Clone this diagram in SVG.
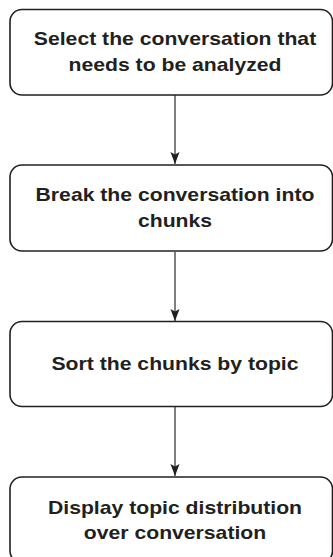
<svg xmlns="http://www.w3.org/2000/svg" width="333" height="557" viewBox="0 0 333 557">
  <defs>
    <marker id="arrow" markerUnits="userSpaceOnUse" markerWidth="14" markerHeight="10" viewBox="-13 -5 14 10" refX="0" refY="0" orient="auto">
      <path d="M-12,-4.5 L0,0 L-12,4.5 L-9.5,0 Z" fill="#231f20"/>
    </marker>
  </defs>
  <style>
    .box { fill: #ffffff; stroke: #231f20; stroke-width: 1.6; }
    .label { font-family: "Liberation Sans", Arial, Helvetica, sans-serif; font-weight: bold; font-size: 19px; fill: #231f20; text-anchor: middle; }
    .edge { stroke: #3a3a3a; stroke-width: 1.3; fill: none; }
  </style>
  <rect width="333" height="557" fill="#ffffff"/>

  <g id="connectors">
    <line class="edge" x1="175" y1="95" x2="175" y2="164" marker-end="url(#arrow)"/>
    <line class="edge" x1="175" y1="252" x2="175" y2="321" marker-end="url(#arrow)"/>
    <line class="edge" x1="175" y1="407" x2="175" y2="476" marker-end="url(#arrow)"/>
  </g>

  <g id="select">
    <rect class="box" x="10" y="9.5" width="322.5" height="85.5" rx="12" ry="12"/>
    <text class="label" transform="matrix(1.115 0 0 1 175 0)" x="0" y="45">Select the conversation that</text>
    <text class="label" transform="matrix(1.115 0 0 1 175 0)" x="0" y="71">needs to be analyzed</text>
  </g>

  <g id="break">
    <rect class="box" x="10" y="165" width="322.5" height="86" rx="12" ry="12"/>
    <text class="label" transform="matrix(1.115 0 0 1 175 0)" x="0" y="201">Break the conversation into</text>
    <text class="label" transform="matrix(1.115 0 0 1 175 0)" x="0" y="227">chunks</text>
  </g>

  <g id="sort">
    <rect class="box" x="10" y="321.5" width="322.5" height="85" rx="12" ry="12"/>
    <text class="label" transform="matrix(1.115 0 0 1 175 0)" x="0" y="370">Sort the chunks by topic</text>
  </g>

  <g id="display">
    <rect class="box" x="10" y="477" width="322.5" height="86" rx="12" ry="12"/>
    <text class="label" transform="matrix(1.115 0 0 1 175 0)" x="0" y="514">Display topic distribution</text>
    <text class="label" transform="matrix(1.115 0 0 1 175 0)" x="0" y="539">over conversation</text>
  </g>
</svg>
